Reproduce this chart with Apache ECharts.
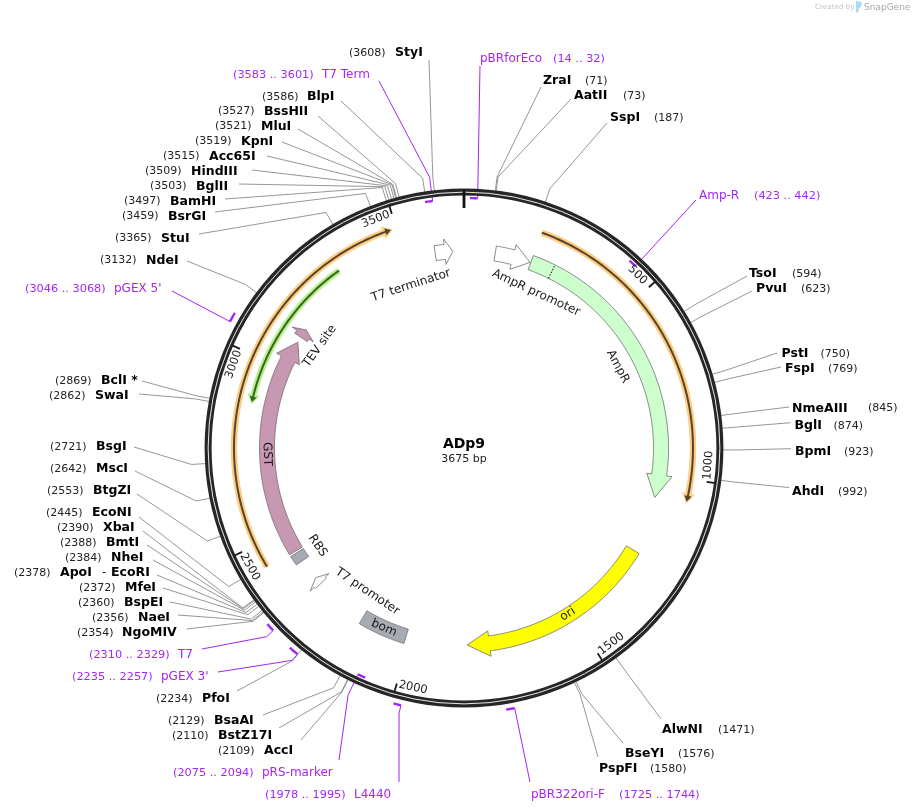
<!DOCTYPE html>
<html>
<head>
<meta charset="utf-8">
<title>ADp9</title>
<script src="https://cdn.jsdelivr.net/npm/echarts@6/dist/echarts.min.js"></script>
<style>
html,body{margin:0;padding:0;background:#fff}
#main{width:913px;height:812px}
</style>
</head>
<body>
<div id="main"></div>
<script>
const plasmidName = "ADp9"
const plasmidLength = 3675
const tickValues = [500,1000,1500,2000,2500,3000,3500]

// restriction sites
const siteNames = ["StyI","BlpI","BssHII","MluI","KpnI","Acc65I","HindIII","BglII","BamHI","BsrGI","StuI","NdeI",
  "BclI *","SwaI","BsgI","MscI","BtgZI","EcoNI","XbaI","BmtI","NheI","ApoI","MfeI","BspEI","NaeI","NgoMIV",
  "PfoI","BsaAI","BstZ17I","AccI","PspFI","BseYI","AlwNI","AhdI","BpmI","BglI","NmeAIII","FspI","PstI","PvuI","TsoI","SspI","AatII","ZraI"]
const sitePositions = [3608,3586,3527,3521,3519,3515,3509,3503,3497,3459,3365,3132,
  2869,2862,2721,2642,2553,2445,2390,2388,2384,2378,2372,2360,2356,2354,
  2234,2129,2110,2109,1580,1576,1471,992,923,874,845,769,750,623,594,187,73,71]

// primer binding sites
const primerNames = ["pBRforEco","Amp-R","pBR322ori-F","L4440","pRS-marker","pGEX 3'","T7","pGEX 5'","T7 Term"]
const primerStarts = [14,423,1725,1978,2075,2235,2310,3046,3583]
const primerEnds = [32,442,1744,1995,2094,2257,2329,3068,3601]

// features: start, end of the arrow along the map
const featureNames = ["AmpR promoter","AmpR","ori","bom","T7 promoter","RBS","GST","TEV site","T7 terminator"]
const featureStarts = [93,202,1236,2152,2313,2400,2435,3105,3589]
const featureEnds = [200,1067,1828,2012,2336,2429,3088,3132,3642]
const featureHeads = [147,999,1762,null,2318,null,3030,3115,3618]
const ampSignalAt = 270

// thick highlighted arcs (translated ORFs)
const arcStarts = [203,2439,3316]
const arcEnds = [1062,3491,2876]

// ---- layout of the text, kept apart from the data ----
const siteNameX = [395,307,264,261,241,209,191,196,170,168,161,146,
  101,95,96,96,93,92,103,106,111,60,125,124,138,122,
  202,214,218,264,599,625,662,792,795,794.5,792,785,781.5,756,749,610,574,543]
const siteNumX = [349,262,218,215,195,163,145,150,124,122,115,100,
  55,49,50,50,47,46,57,60,65,14,79,78,92,77,
  156,168,172,218,650,678,718,838,844,833.5,868,828,820.5,801,792,654,623,585]
const siteLabelY = [52,96,110.5,125.5,140.5,155.5,170.5,185.5,200.5,215.5,237.5,259.5,
  380,395,446,468,490,512,527,542,557,572,587,602,617,632,
  698,720,735,750,768,753,729,491,451,425,407.5,368,353,288,273,117,95,80]
const siteEndX = [429,341,318,298,282,267,252,239,225,215,199,187,
  142,139,134,135,137,139,143,147,153,157,163,170,178,187,
  237,263,279,301,598,623,661,789,791,790.5,789,781,777,752,747,607,571,541]
const siteEndY = [60,101,116,129,142,156,170,184,199,212,234,261,
  381,394,447,471,494,517,531,545,560,575,588,602,615,629,
  691,715,728,740,757,743,719,487.5,448.7,422.7,407,367,353,291,276,123,99,87]

const primerNameX = [480,699,531,354,262,161,178,114,322]
const primerNumX = [553,754,619,265,173,72,89,25,233]
const primerLabelY = [58,195,794,794,772,676,654,288,74]
const primerEndX = [480,696,530,399,339,218,202,172,379]
const primerEndY = [66,200,782,782,760,672,649,291,81]
const primerMarkR = [250,250,265,265,250,265,264,266,249]
const primerElbow = [false,false,false,true,true,true,true,false,true]
// the leader leaves the mark from this end of it
const primerLeaderAtEnd = [true,true,false,false,true,false,false,false,true]

const featureColors = ["#ffffff","#ccffcc","#ffff00","#a6abb5","#ffffff","#a6abb5","#c897b2","#c897b2","#ffffff"]
const featureLabelR = [171,174,196,197,173,176,197,176.5,171]
const featureLabelAt = [254,634,1511,2082,2184,2412,2738,3116,3491]
const arcGlow = ["#ffcd82","#ffcd82","#b7ee8e"]
const arcLine = ["#54462e","#54462e","#36661a"]
const arcRadius = [229,230,217]

const cx = 464, cy = 448, ringR = 259
const bandIn = 189.5, bandOut = 204.5, headIn = 184.5, headOut = 210
const elbowR = 273
const font = '"DejaVu Sans"'
const purple = "#a326f2"
const leaderGray = "#8a8a8a"

function arc(api, r, from, to){
  let pts = []
  let n = Math.max(2, Math.ceil(Math.abs(to-from)/6))
  for(let i=0;i<=n;i++){
    pts.push(api.coord([r, from+(to-from)*i/n]))
  }
  return pts
}

function arrowPoly(api, start, base, tip, rIn, rOut, hIn, hOut){
  let pts = arc(api, rOut, start, base)
  pts.push(api.coord([hOut, base]))
  pts.push(api.coord([(rIn+rOut)/2, tip]))
  pts.push(api.coord([hIn, base]))
  return pts.concat(arc(api, rIn, base, start))
}

// text is turned to follow the circle, never upside down
function tangentRotation(bp){
  let deg = bp/plasmidLength*360
  if(deg>90&&deg<270) deg -= 180
  return -deg*Math.PI/180
}

function label(x, y, text, fill, fontStr){
  return {
    type:"text", x:x, y:y+1, silent:true,
    style:{text:text, fill:fill, font:fontStr, align:"left", verticalAlign:"middle"}
  }
}

function curvedLabel(api, r, bp, text, fontStr){
  let p = api.coord([r, bp])
  return {
    type:"text", x:p[0], y:p[1], rotation:tangentRotation(bp), silent:true,
    style:{text:text, fill:"#1a1a1a", font:fontStr, align:"center", verticalAlign:"middle"}
  }
}

function renderRing(params, api){
  let c = api.coord([0,0])
  return {
    type:"group",
    children:[
      {type:"circle", shape:{cx:c[0], cy:c[1], r:255.9}, style:{fill:"none", stroke:"#262626", lineWidth:7}},
      {type:"circle", shape:{cx:c[0], cy:c[1], r:255.9}, style:{fill:"none", stroke:"#ffffff", lineWidth:0.9}}
    ]
  }
}

function renderTick(params, api){
  let bp = tickValues[params.dataIndex]
  let a = api.coord([245,bp]), b = api.coord([254,bp])
  return {
    type:"group",
    children:[
      {type:"line", shape:{x1:a[0],y1:a[1],x2:b[0],y2:b[1]}, style:{stroke:"#1a1a1a",lineWidth:1.8}},
      curvedLabel(api, 245, bp-40, String(bp), "11.5px "+font)
    ]
  }
}

function renderSite(params, api){
  let i = params.dataIndex
  let bp = sitePositions[i]
  let pts = [api.coord([ringR,bp]), api.coord([elbowR,bp]), [siteEndX[i],siteEndY[i]]]
  let kids = [
    {type:"polyline", shape:{points:pts}, style:{stroke:leaderGray,lineWidth:0.9,fill:"none"}},
    label(siteNumX[i], siteLabelY[i], "("+bp+")", "#222", "11px "+font),
    label(siteNameX[i], siteLabelY[i], siteNames[i], "#000", "bold 12.5px "+font)
  ]
  if(siteNames[i]=="ApoI"){
    // EcoRI cuts at the same base, SnapGene puts it on the same row
    kids.push(label(102, siteLabelY[i], "-", "#222", "12px "+font))
    kids.push(label(111, siteLabelY[i], "EcoRI", "#000", "bold 12.5px "+font))
  }
  return {type:"group", children:kids}
}

function renderPrimerLine(params, api){
  let i = params.dataIndex
  let at = primerLeaderAtEnd[i] ? primerEnds[i] : primerStarts[i]
  let pts = [api.coord([primerMarkR[i],at])]
  if(primerElbow[i]) pts.push(api.coord([elbowR,at]))
  pts.push([primerEndX[i],primerEndY[i]])
  return {type:"polyline", shape:{points:pts}, style:{stroke:purple,lineWidth:1,fill:"none"}}
}

function renderPrimer(params, api){
  let i = params.dataIndex
  return {
    type:"group",
    children:[
      {type:"polyline", shape:{points:arc(api,primerMarkR[i],primerStarts[i],primerEnds[i])},
        style:{stroke:purple,lineWidth:2.4,fill:"none"}},
      label(primerNumX[i], primerLabelY[i], "("+primerStarts[i]+" .. "+primerEnds[i]+")", purple, "11.3px "+font),
      label(primerNameX[i], primerLabelY[i], primerNames[i], purple, "12px "+font)
    ]
  }
}

function renderArc(params, api){
  let i = params.dataIndex
  let r = arcRadius[i], s = arcStarts[i], e = arcEnds[i]
  let dir = e>s ? 1 : -1
  return {
    type:"group",
    children:[
      {type:"polygon", shape:{points:arrowPoly(api,s,e-dir*26,e,r-3.2,r+3.2,r-6.5,r+6.5)},
        style:{fill:arcGlow[i],stroke:"none"}},
      {type:"polygon", shape:{points:arrowPoly(api,s,e-dir*20,e-dir*5,r-1,r+1,r-3.6,r+3.6)},
        style:{fill:arcLine[i],stroke:"none"}}
    ]
  }
}

function renderFeature(params, api){
  let i = params.dataIndex
  let s = featureStarts[i], e = featureEnds[i], h = featureHeads[i]
  let pts
  if(h===null){
    pts = arc(api,bandOut,s,e).concat(arc(api,bandIn,e,s))
  }else{
    pts = arrowPoly(api,s,h,e,bandIn,bandOut,headIn,headOut)
  }
  let kids = [{type:"polygon", shape:{points:pts}, style:{fill:featureColors[i],stroke:"#6e6e6e",lineWidth:0.8}}]
  if(featureNames[i]=="AmpR"){
    let a = api.coord([bandIn,ampSignalAt]), b = api.coord([bandOut,ampSignalAt])
    kids.push({type:"line", shape:{x1:a[0],y1:a[1],x2:b[0],y2:b[1]},
      style:{stroke:"#000",lineWidth:1,lineDash:[1.5,1.5]}})
  }
  kids.push(curvedLabel(api,featureLabelR[i],featureLabelAt[i],featureNames[i],"12px "+font))
  return {type:"group", children:kids}
}

function indices(arr){
  return arr.map((v,i)=>i)
}

function customSeries(data, renderItem, z){
  return {type:"custom", coordinateSystem:"polar", data:data, renderItem:renderItem, z:z, silent:true, clip:false, animation:false}
}

const chart = echarts.init(document.getElementById("main"), null, {renderer:"canvas"})
chart.setOption({
  backgroundColor:"#fff",
  animation:false,
  polar:{center:[cx,cy], radius:ringR},
  radiusAxis:{show:false, min:0, max:ringR},
  angleAxis:{show:false, min:0, max:plasmidLength, startAngle:90, clockwise:true},
  graphic:[
    {type:"text", x:cx, y:444, style:{text:plasmidName, fill:"#000", font:"bold 14px "+font, align:"center", verticalAlign:"middle"}},
    {type:"text", x:cx, y:459, style:{text:plasmidLength+" bp", fill:"#222", font:"11px "+font, align:"center", verticalAlign:"middle"}},
    {type:"text", x:815, y:7.5, style:{text:"Created by", fill:"#c4c4c4", font:"7.2px "+font, align:"left", verticalAlign:"middle"}},
    {type:"polygon", shape:{points:[[856,1],[862,2],[861,7],[859,8],[858,13],[856,12]]}, style:{fill:"#a6dcf5"}},
    {type:"text", x:864, y:7.5, style:{text:"SnapGene", fill:"#a8a8a8", font:"9px "+font, align:"left", verticalAlign:"middle"}}
  ],
  series:[
    customSeries(indices(primerNames), renderPrimerLine, 1),
    customSeries(indices(siteNames), renderSite, 2),
    customSeries([0], renderRing, 3),
    customSeries(indices(primerNames), renderPrimer, 4),
    customSeries(indices(arcStarts), renderArc, 4),
    customSeries(indices(featureNames), renderFeature, 5),
    customSeries(indices(tickValues), renderTick, 6),
    customSeries([0], function(params, api){
      // position 0 gets the heavier mark
      let a = api.coord([240,0]), b = api.coord([258,0])
      return {type:"line", shape:{x1:a[0],y1:a[1],x2:b[0],y2:b[1]}, style:{stroke:"#111",lineWidth:2.8}}
    }, 6)
  ]
})
</script>
</body>
</html>
